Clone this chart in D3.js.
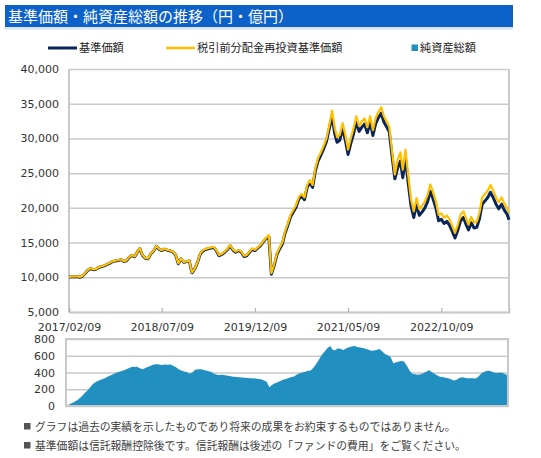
<!DOCTYPE html>
<html><head><meta charset="utf-8">
<script src="https://cdn.jsdelivr.net/npm/d3@7/dist/d3.min.js"></script>
<style>
body{margin:0;background:#fff;}
svg{display:block;}
</style></head>
<body>
<svg id="c" width="541" height="458"></svg>
<script>
const dates = [
"2017-02-09","2017-02-24","2017-03-09","2017-03-24","2017-04-09","2017-04-24","2017-05-09","2017-05-24","2017-06-09","2017-06-24",
"2017-07-09","2017-07-24","2017-08-09","2017-08-24","2017-09-09","2017-09-24","2017-10-09","2017-10-24","2017-11-09","2017-11-24",
"2017-12-09","2017-12-24","2018-01-09","2018-01-24","2018-02-09","2018-02-24","2018-03-09","2018-03-24","2018-04-09","2018-04-24",
"2018-05-09","2018-05-24","2018-06-09","2018-06-24","2018-07-09","2018-07-24","2018-08-09","2018-08-24","2018-09-09","2018-09-24",
"2018-10-09","2018-10-24","2018-11-09","2018-11-24","2018-12-09","2018-12-24","2019-01-09","2019-01-24","2019-02-09","2019-02-24",
"2019-03-09","2019-03-24","2019-04-09","2019-04-24","2019-05-09","2019-05-24","2019-06-09","2019-06-24","2019-07-09","2019-07-24",
"2019-08-09","2019-08-24","2019-09-09","2019-09-24","2019-10-09","2019-10-24","2019-11-09","2019-11-24","2019-12-09","2019-12-24",
"2020-01-09","2020-01-24","2020-02-09","2020-02-24","2020-03-09","2020-03-24","2020-04-09","2020-04-24","2020-05-09","2020-05-24",
"2020-06-09","2020-06-24","2020-07-09","2020-07-24","2020-08-09","2020-08-24","2020-09-09","2020-09-24","2020-10-09","2020-10-24",
"2020-11-09","2020-11-24","2020-12-09","2020-12-24","2021-01-09","2021-01-24","2021-02-09","2021-02-24","2021-03-09","2021-03-24",
"2021-04-09","2021-04-24","2021-05-09","2021-05-24","2021-06-09","2021-06-24","2021-07-09","2021-07-24","2021-08-09","2021-08-24",
"2021-09-09","2021-09-24","2021-10-09","2021-10-24","2021-11-09","2021-11-24","2021-12-09","2021-12-24","2022-01-09","2022-01-24",
"2022-02-09","2022-02-24","2022-03-09","2022-03-24","2022-04-09","2022-04-24","2022-05-09","2022-05-24","2022-06-09","2022-06-24",
"2022-07-09","2022-07-24","2022-08-09","2022-08-24","2022-09-09","2022-09-24","2022-10-09","2022-10-24","2022-11-09","2022-11-24",
"2022-12-09","2022-12-24","2023-01-09","2023-01-24","2023-02-09","2023-02-24","2023-03-09","2023-03-24","2023-04-09","2023-04-24",
"2023-05-09","2023-05-24","2023-06-09","2023-06-24","2023-07-09","2023-07-24","2023-08-09","2023-08-24","2023-09-09","2023-09-24",
"2023-10-09","2023-10-20"];

// 基準価額 (円)
const navValues = [
10000,10100,10050,10100,10000,10150,10550,11000,11250,11100,
11150,11400,11550,11650,11850,12050,12250,12350,12400,12550,
12300,12350,12850,13150,12950,13650,14150,13150,12750,12650,
13350,13750,14450,14050,13850,14050,13900,13800,13650,13250,
11950,12650,12150,12250,12350,10650,11250,12150,13400,13800,
14000,14100,14200,14300,13800,13100,13300,13600,14000,14550,
13900,13600,13850,13600,13000,13100,13600,14050,13850,14200,
14550,15100,15600,15850,10450,11620,13300,14090,14780,16350,
17530,18720,19400,20090,21280,21670,21180,22950,23640,22950,
25410,26790,27580,28470,29550,31320,33150,30710,29450,29740,
31400,29740,27690,29250,30710,32370,31010,31590,32080,30810,
32370,30420,32080,32960,33640,32370,31690,30910,27300,24180,
25790,26740,24350,27120,23400,20250,18620,20440,18910,19390,
19960,20820,22350,21300,19960,18150,18340,17760,18050,17480,
16620,15660,16810,18150,18620,17570,16810,17860,17090,17190,
18430,20530,21010,21490,22250,21490,20530,19860,20530,19670,
19100,18300];

// 税引前分配金再投資基準価額 (円)
const reinvestValues = [
10000,10150,10100,10150,10050,10200,10600,11050,11300,11150,
11200,11450,11600,11700,11900,12100,12300,12400,12450,12600,
12350,12400,12900,13200,13000,13700,14200,13200,12800,12700,
13400,13800,14500,14100,13900,14100,13950,13850,13700,13300,
12000,12700,12200,12300,12400,10700,11300,12200,13500,13900,
14100,14200,14300,14400,13900,13200,13400,13700,14100,14650,
14000,13700,13950,13700,13100,13200,13700,14150,13950,14300,
14650,15200,15700,16100,10600,11800,13500,14300,15000,16600,
17800,19000,19700,20400,21600,22000,21500,23300,24000,23300,
25800,27200,28000,28900,30000,31800,34000,31500,30200,30500,
32200,30500,28400,30000,31500,33200,31800,32400,32900,31600,
33200,31200,32900,33800,34500,33200,32500,31700,28000,24800,
27000,28000,25500,28400,24500,21200,19500,21400,19800,20300,
20900,21800,23400,22300,20900,19000,19200,18600,18900,18300,
17400,16400,17600,19000,19500,18400,17600,18700,17900,18000,
19300,21500,22000,22500,23300,22500,21500,20800,21500,20600,
20000,19300];

// 純資産総額 (億円)
const assetValues = [
5,15,30,45,65,90,120,155,188,228,
265,288,305,315,328,345,360,375,392,405,
415,425,440,455,470,465,470,450,438,455,
470,480,495,500,495,490,495,492,495,480,
465,440,425,412,405,385,400,432,440,438,
432,425,415,405,385,372,370,372,368,360,
355,350,345,342,340,338,335,332,330,328,
322,318,305,290,225,250,272,285,300,312,
322,335,345,352,375,390,400,410,420,425,
460,505,555,610,650,690,716,670,665,690,
680,668,690,702,710,716,705,698,692,685,
672,660,662,668,680,650,621,605,585,510,
522,530,538,530,480,420,385,380,372,378,
392,410,428,405,385,365,350,345,338,330,
318,305,312,335,342,336,330,332,330,328,
350,385,405,418,420,408,398,395,400,392,
375,355];

const priceTicks = [5000,10000,15000,20000,25000,30000,35000,40000];
const assetTicks = [0,200,400,600,800];
const dateTicks = ["2017-02-09","2018-07-09","2019-12-09","2021-05-09","2022-10-09"];
const domainDates = ["2017-02-09","2023-10-20"];

const title = "基準価額・純資産総額の推移（円・億円）";
const legendLabels = ["基準価額","税引前分配金再投資基準価額","純資産総額"];
const notes = ["グラフは過去の実績を示したものであり将来の成果をお約束するものではありません。",
               "基準価額は信託報酬控除後です。信託報酬は後述の「ファンドの費用」をご覧ください。"];

const parse = d3.timeParse("%Y-%m-%d");
const fmtDate = d3.timeFormat("%Y/%m/%d");
const D = dates.map(parse);

const svg = d3.select("#c");
const NAVY = "#0B2559", GOLD = "#FFC000", AREA = "#2190C1", GRID = "#C9C9C9", TXT = "#333";
const cjk = "'Noto Sans CJK JP','Noto Sans',sans-serif";
const num = "'DejaVu Sans',Verdana,sans-serif";

// Title bar
svg.append("rect").attr("x",5).attr("y",5).attr("width",508).attr("height",22).attr("fill","#0C62C9");
svg.append("rect").attr("x",5).attr("y",27).attr("width",508).attr("height",2.5).attr("fill","#D6E4F4");
svg.append("text").attr("x",8).attr("y",22).attr("fill","#fff").attr("font-family",cjk)
  .attr("font-size",15).text(title);

// Legend
const lg = svg.append("g").attr("font-family",cjk).attr("font-size",11.2).attr("fill","#222");
lg.append("line").attr("x1",48).attr("x2",77).attr("y1",48).attr("y2",48).attr("stroke",NAVY).attr("stroke-width",3);
lg.append("text").attr("x",79).attr("y",52).text(legendLabels[0]);
lg.append("line").attr("x1",166).attr("x2",195).attr("y1",48).attr("y2",48).attr("stroke",GOLD).attr("stroke-width",2.5);
lg.append("text").attr("x",197).attr("y",52).text(legendLabels[1]);
lg.append("rect").attr("x",411.5).attr("y",44.5).attr("width",6.5).attr("height",6.5).attr("fill",AREA);
lg.append("text").attr("x",420).attr("y",52).text(legendLabels[2]);

// Main chart
const m = {l:69, r:509, t:69, b:312};
const x = d3.scaleTime().domain(domainDates.map(parse)).range([m.l, m.r]);
const y = d3.scaleLinear().domain([5000,40000]).range([m.b, m.t]);

const gy = svg.append("g").attr("transform",`translate(${m.l},0)`)
  .call(d3.axisLeft(y).tickValues(priceTicks).tickSize(-(m.r-m.l)).tickFormat(d3.format(",")));
gy.select(".domain").remove();
gy.selectAll(".tick line").attr("stroke",GRID).attr("stroke-width",1.5);
gy.selectAll(".tick text").attr("x",-10).attr("fill",TXT).attr("font-family",num).attr("font-size",11);

svg.append("line").attr("x1",m.l).attr("x2",m.l).attr("y1",m.t).attr("y2",m.b).attr("stroke",GRID).attr("stroke-width",2);
svg.append("line").attr("x1",m.r).attr("x2",m.r).attr("y1",m.t).attr("y2",m.b).attr("stroke",GRID).attr("stroke-width",2);

const gx = svg.append("g").attr("transform",`translate(0,${m.b})`)
  .call(d3.axisBottom(x).tickValues(dateTicks.map(parse)).tickSize(-4).tickPadding(9).tickFormat(fmtDate));
gx.select(".domain").attr("stroke",GRID).attr("stroke-width",2);
gx.selectAll(".tick line").attr("stroke","#B0B0B0").attr("stroke-width",1.2);
gx.selectAll(".tick text").attr("fill",TXT).attr("font-family",num).attr("font-size",11).attr("dy","0.9em");

const lineNav = d3.line().x((d,i)=>x(D[i])).y(d=>y(d));
svg.append("path").datum(navValues).attr("d",lineNav).attr("fill","none")
  .attr("stroke",NAVY).attr("stroke-width",3).attr("stroke-linejoin","round");
svg.append("path").datum(reinvestValues).attr("d",lineNav).attr("fill","none")
  .attr("stroke",GOLD).attr("stroke-width",2.2).attr("stroke-linejoin","round");

// Lower chart
const n = {l:66, r:508, t:339, b:406};
const x2 = d3.scaleTime().domain(domainDates.map(parse)).range([n.l, n.r]);
const y2 = d3.scaleLinear().domain([0,800]).range([n.b, n.t]);

const gy2 = svg.append("g").attr("transform",`translate(${n.l},0)`)
  .call(d3.axisLeft(y2).tickValues(assetTicks).tickSize(-(n.r-n.l)));
gy2.select(".domain").remove();
gy2.selectAll(".tick line").attr("stroke",GRID).attr("stroke-width",1.5);
gy2.selectAll(".tick text").attr("x",-11).attr("fill",TXT).attr("font-family",num).attr("font-size",11);

const area = d3.area().x((d,i)=>x2(D[i])).y0(y2(0)).y1(d=>y2(d));
svg.append("path").datum(assetValues).attr("d",area).attr("fill",AREA);

svg.append("rect").attr("x",n.l).attr("y",n.t).attr("width",n.r-n.l).attr("height",n.b-n.t)
  .attr("fill","none").attr("stroke",GRID).attr("stroke-width",2);

// Notes
const ng = svg.append("g").attr("font-family",cjk).attr("font-size",10.8).attr("fill","#404040");
notes.forEach((t,i)=>{
  const yy = 431 + i*19;
  ng.append("rect").attr("x",24).attr("y",yy-8).attr("width",6.5).attr("height",6.5).attr("fill","#555");
  ng.append("text").attr("x",35).attr("y",yy).text(t);
});
</script>
</body></html>
